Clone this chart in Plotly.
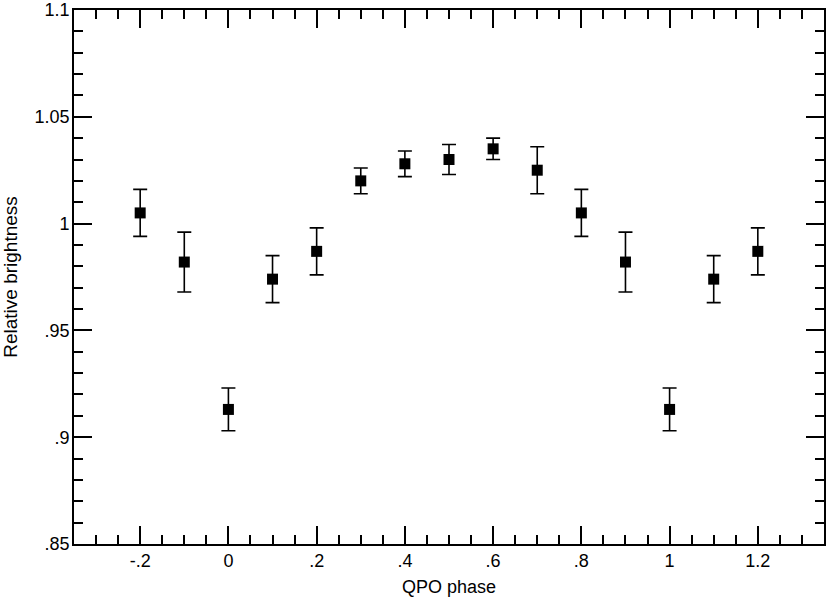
import plotly.graph_objects as go

# Data
phase = [-0.2, -0.1, 0.0, 0.1, 0.2, 0.3, 0.4, 0.5, 0.6, 0.7, 0.8, 0.9, 1.0, 1.1, 1.2]
brightness = [1.005, 0.982, 0.913, 0.974, 0.987, 1.020, 1.028, 1.030, 1.035,
              1.025, 1.005, 0.982, 0.913, 0.974, 0.987]
error = [0.011, 0.014, 0.010, 0.011, 0.011, 0.006, 0.006, 0.007, 0.005,
         0.011, 0.011, 0.014, 0.010, 0.011, 0.011]

x_tickvals = [-0.2, 0.0, 0.2, 0.4, 0.6, 0.8, 1.0, 1.2]
x_ticktext = ["-.2", "0", ".2", ".4", ".6", ".8", "1", "1.2"]
y_tickvals = [0.85, 0.90, 0.95, 1.00, 1.05, 1.10]
y_ticktext = [".85", ".9", ".95", "1", "1.05", "1.1"]

FONT = "Liberation Sans, Arial, Helvetica, sans-serif"

fig = go.Figure()
fig.add_trace(go.Scatter(
    x=phase, y=brightness, mode="markers",
    marker=dict(symbol="square", size=11, color="black"),
    error_y=dict(type="data", array=error, visible=True, color="black",
                 thickness=1.6, width=7),
    showlegend=False,
))

axis_common = dict(
    showline=True, linecolor="black", linewidth=1.6, mirror="ticks",
    ticks="inside", tickcolor="black", tickwidth=1.6, ticklen=18,
    showgrid=False, zeroline=False, automargin=False,
    ticklabeloverflow="allow",
    tickfont=dict(family=FONT, size=18, color="black"),
)

fig.update_xaxes(
    range=[-0.35, 1.35], tickmode="array", tickvals=x_tickvals, ticktext=x_ticktext,
    minor=dict(ticks="inside", ticklen=9, tickwidth=1.6, tickcolor="black",
               tick0=0, dtick=0.05, showgrid=False),
    title=dict(text="QPO phase", font=dict(family=FONT, size=18, color="black"), standoff=10),
    **axis_common,
)
fig.update_yaxes(
    range=[0.85, 1.1000001], tickmode="array", tickvals=y_tickvals, ticktext=y_ticktext,
    minor=dict(ticks="inside", ticklen=9, tickwidth=1.6, tickcolor="black",
               tick0=0, dtick=0.01, showgrid=False),
    ticklabelstandoff=-1,
    title=dict(text="Relative brightness", font=dict(family=FONT, size=19, color="black"), standoff=12),
    **axis_common,
)

fig.update_layout(
    width=830, height=600,
    margin=dict(l=74, r=6, t=10, b=56),
    plot_bgcolor="white", paper_bgcolor="white",
)

fig.write_html(
    "out.html",
    config={"displayModeBar": False},
    post_script="document.body.style.margin='0px';document.body.style.overflow='hidden';",
)
